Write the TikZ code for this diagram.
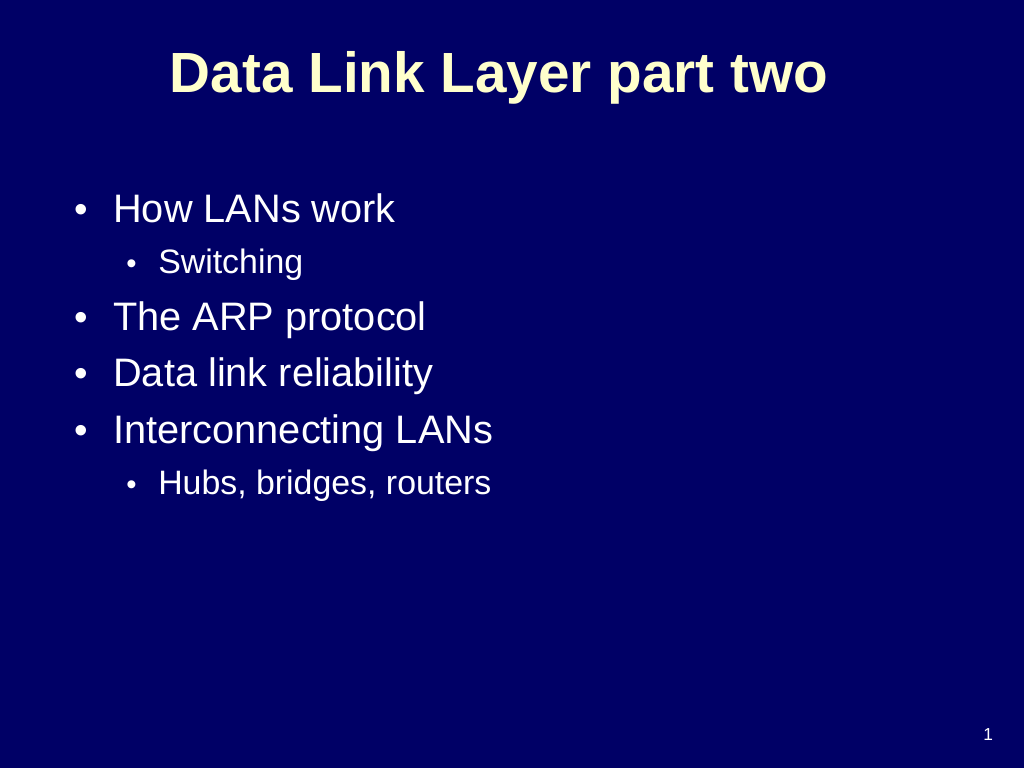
\documentclass[tikz,border=0pt]{standalone}
\usepackage{fontspec}
\setmainfont{Liberation Sans}
\definecolor{bg}{HTML}{000066}
\definecolor{ttl}{HTML}{FFFFCC}
\begin{document}
\begin{tikzpicture}[x=0.75pt,y=-0.75pt,
  every node/.style={inner sep=0,anchor=base west,text=white},
  l1/.style={font=\fontsize{29.8}{32}\selectfont},
  l2/.style={font=\fontsize{25.4}{28}\selectfont},
  d1/.style={font=\fontsize{29}{32}\selectfont},
  d2/.style={font=\fontsize{22}{24}\selectfont}]
\fill[bg] (0,0) rectangle (1024,768);
\useasboundingbox (0,0) rectangle (1024,768);
\node[anchor=base,text=ttl,font=\fontsize{42.5}{46}\selectfont\bfseries] (title) at (499,92) {Data Link Layer part two};
\node[d1] (b1d) at (74,222) {•}; \node[l1] (b1) at (113,222) {How LANs work};
\node[d2] (s1d) at (126,273) {•}; \node[l2] (s1) at (158,273) {Switching};
\node[d1] (b2d) at (74,330) {•}; \node[l1] (b2) at (113,330) {The ARP protocol};
\node[d1] (b3d) at (74,386) {•}; \node[l1] (b3) at (113,386) {Data link reliability};
\node[d1] (b4d) at (74,443) {•}; \node[l1] (b4) at (113,443) {Interconnecting LANs};
\node[d2] (s2d) at (126,494) {•}; \node[l2] (s2) at (158,494) {Hubs, bridges, routers};
\node[font=\fontsize{13}{14}\selectfont] (pg) at (983,740) {1};
\end{tikzpicture}
\end{document}
